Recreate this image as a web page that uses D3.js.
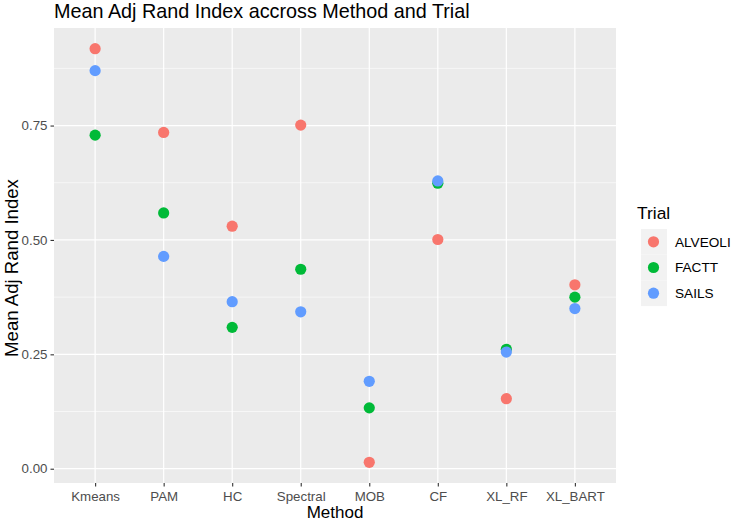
<!DOCTYPE html>
<meta charset="utf-8">
<script src="https://cdn.jsdelivr.net/npm/d3@7"></script>
<style>
  body { margin: 0; background: #fff; }
  text { font-family: "Liberation Sans", Arial, sans-serif; }
</style>
<body>
<script>

// data
var methods = ["Kmeans", "PAM", "HC", "Spectral", "MOB", "CF", "XL_RF", "XL_BART"]
var trials = ["ALVEOLI", "FACTT", "SAILS"]
var alveoli = [0.918, 0.735, 0.530, 0.751, 0.014, 0.501, 0.153, 0.402]
var factt   = [0.729, 0.559, 0.309, 0.436, 0.133, 0.624, 0.261, 0.375]
var sails   = [0.870, 0.464, 0.365, 0.343, 0.191, 0.629, 0.255, 0.350]
var yTicks = [0, 0.25, 0.5, 0.75]
var colors = ["#F8766D", "#00BA38", "#619CFF"]

var width = 731
var height = 522
var panel = {left: 54, right: 616, top: 28, bottom: 483}

var svg = d3.select("body").append("svg")
            .attr("width", width)
            .attr("height", height)

var series = [alveoli, factt, sails]
var allVals = d3.merge(series)
var lo = d3.min(allVals), hi = d3.max(allVals)
var pad = (hi - lo) * 0.05

var y = d3.scaleLinear().domain([lo - pad, hi + pad]).range([panel.bottom, panel.top])
var x = d3.scalePoint().domain(methods).range([panel.left, panel.right]).padding(0.6)

// panel background
svg.append("rect")
   .attr("x", panel.left).attr("y", panel.top)
   .attr("width", panel.right - panel.left).attr("height", panel.bottom - panel.top)
   .attr("fill", "#EBEBEB")

// minor grid
var minor = [0.125, 0.375, 0.625, 0.875].filter(function(v) { return y(v) > panel.top })
svg.selectAll(".minor").data(minor).enter().append("line")
   .attr("x1", panel.left).attr("x2", panel.right)
   .attr("y1", function(d) { return y(d) }).attr("y2", function(d) { return y(d) })
   .attr("stroke", "#fff").attr("stroke-width", 0.6)

// major grid
svg.selectAll(".hmajor").data(yTicks).enter().append("line")
   .attr("x1", panel.left).attr("x2", panel.right)
   .attr("y1", function(d) { return y(d) }).attr("y2", function(d) { return y(d) })
   .attr("stroke", "#fff").attr("stroke-width", 1.2)
svg.selectAll(".vmajor").data(methods).enter().append("line")
   .attr("y1", panel.top).attr("y2", panel.bottom)
   .attr("x1", function(d) { return x(d) }).attr("x2", function(d) { return x(d) })
   .attr("stroke", "#fff").attr("stroke-width", 1.2)

// axes
var yAxis = svg.append("g")
    .attr("transform", "translate(" + panel.left + ",0)")
    .call(d3.axisLeft(y).tickValues(yTicks).tickFormat(d3.format(".2f")).tickSize(3.5).tickPadding(3))
var xAxis = svg.append("g")
    .attr("transform", "translate(0," + panel.bottom + ")")
    .call(d3.axisBottom(x).tickSize(3.5).tickPadding(3))
;[xAxis, yAxis].forEach(function(g) {
  g.select(".domain").remove()
  g.selectAll(".tick line").attr("stroke", "#333").attr("stroke-width", 1.1)
  g.selectAll(".tick text").attr("fill", "#4D4D4D").style("font-size", "13.3px")
    .style("font-family", "'Liberation Sans', Arial, sans-serif")
})
xAxis.selectAll(".tick text").attr("dy", null).attr("y", 18)

// points
series.forEach(function(vals, k) {
  svg.append("g").selectAll("circle").data(vals).enter().append("circle")
     .attr("cx", function(d, i) { return x(methods[i]) })
     .attr("cy", function(d) { return y(d) })
     .attr("r", 5.6)
     .attr("fill", colors[k])
})

// titles
svg.append("text").attr("x", panel.left).attr("y", 18)
   .style("font-size", "19.8px").attr("fill", "#000")
   .text("Mean Adj Rand Index accross Method and Trial")
svg.append("text").attr("x", (panel.left + panel.right) / 2).attr("y", 518)
   .attr("text-anchor", "middle").style("font-size", "17px")
   .text("Method")
svg.append("text")
   .attr("transform", "translate(17.5,268) rotate(-90)")
   .attr("text-anchor", "middle").style("font-size", "18.6px")
   .text("Mean Adj Rand Index")

// legend
var legend = svg.append("g").attr("transform", "translate(637,0)")
legend.append("text").attr("x", 0).attr("y", 219).style("font-size", "17.4px").text("Trial")
trials.forEach(function(t, k) {
  var top = 229 + k * 25.7
  legend.append("rect").attr("x", 4).attr("y", top).attr("width", 26).attr("height", 25.7)
        .attr("fill", "#F2F2F2")
  legend.append("circle").attr("cx", 16.5).attr("cy", top + 12.8).attr("r", 5.6).attr("fill", colors[k])
  legend.append("text").attr("x", 38).attr("y", top + 17.5).style("font-size", "13.6px")
        .attr("fill", "#000").text(t)
})

</script>
</body>
